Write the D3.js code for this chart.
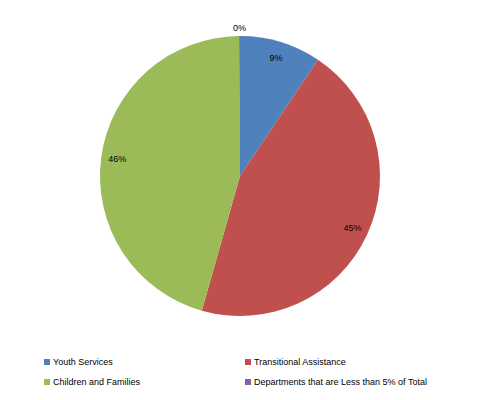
<!DOCTYPE html>
<html><head><meta charset="utf-8">
<script src="https://cdn.jsdelivr.net/npm/d3@7"></script>
<style>body{margin:0;background:#fff}</style>
</head><body>
<script>
var categories = ["Youth Services", "Transitional Assistance", "Children and Families", "Departments that are Less than 5% of Total"];
var values = [9.4, 45.0, 45.5, 0.1];
var colors = ["#4F81BD", "#C0504D", "#9BBB59", "#8064A2"];

var w = 480, h = 400;
var cx = 240, cy = 176, r = 140;

var svg = d3.select("body").append("svg").attr("width", w).attr("height", h)
  .style("font-family", "'Liberation Sans', Arial, sans-serif");

var total = d3.sum(values);
var pie = d3.pie().sort(null).value(function(d) { return d; });
var arcs = pie(values);
var arc = d3.arc().innerRadius(0).outerRadius(r);

var g = svg.append("g").attr("transform", "translate(" + cx + "," + cy + ")");
g.selectAll("path").data(arcs).enter().append("path")
  .attr("d", arc)
  .attr("fill", function(d, i) { return colors[i]; });

// percentage labels
g.selectAll("text").data(arcs).enter().append("text")
  .attr("transform", function(d) {
    var a = (d.startAngle + d.endAngle) / 2;
    var rr = (d.endAngle - d.startAngle) < 0.1 ? 148 : 124;
    return "translate(" + (Math.sin(a) * rr) + "," + (-Math.cos(a) * rr) + ")";
  })
  .attr("text-anchor", "middle")
  .attr("dy", "0.35em")
  .attr("font-size", 9)
  .attr("fill", "#000")
  .text(function(d) { return Math.round(d.data / total * 100) + "%"; });

// legend
var legend = svg.selectAll("g.leg").data(categories).enter().append("g")
  .attr("class", "leg")
  .attr("transform", function(d, i) {
    return "translate(" + (i % 2 ? 245 : 44) + "," + (i < 2 ? 362 : 382) + ")";
  });
legend.append("rect").attr("x", 0).attr("y", -3).attr("width", 6).attr("height", 6)
  .attr("fill", function(d, i) { return colors[i]; });
legend.append("text").attr("x", 9).attr("dy", "0.35em").attr("font-size", 9)
  .text(function(d) { return d; });
</script>
</body></html>
